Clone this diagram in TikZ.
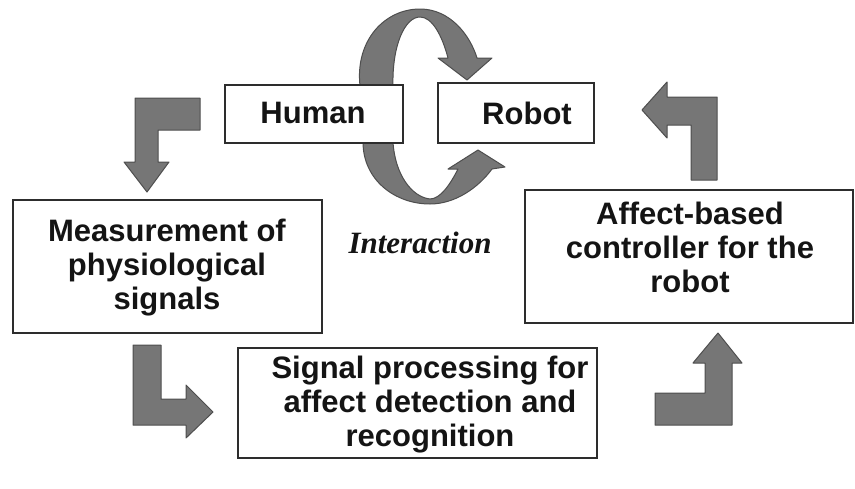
\documentclass[tikz,border=0pt]{standalone}
\usepackage{fontspec}
\setmainfont{Liberation Sans}
\newfontfamily\serifbi{Liberation Serif}
\definecolor{arrowfill}{RGB}{118,118,118}
\definecolor{arrowline}{RGB}{78,78,78}
\definecolor{boxline}{RGB}{45,45,45}
\definecolor{txtcol}{RGB}{20,20,20}
\begin{document}
\begin{tikzpicture}[x=1pt,y=-1pt,
  box/.style={draw=boxline, line width=2pt, fill=white, inner sep=0pt, rectangle},
  txt/.style={font=\fontsize{31}{34}\selectfont\bfseries, align=center, text=txtcol, inner sep=0pt},
  blockarrow/.style={fill=arrowfill, draw=arrowline, line width=1pt, line join=round}]
\useasboundingbox (0,0) rectangle (855,488);
% interaction crescents (behind the boxes)
\draw[blockarrow] (360,86) .. controls (355,40) and (385,9) .. (420,9)
  .. controls (450,9) and (470,35) .. (477,58) -- (492,58) -- (467,80) -- (438,58) -- (448,58)
  .. controls (442,35) and (432,17) .. (420,17)
  .. controls (405,17) and (392,45) .. (393,86) -- cycle;
\draw[blockarrow] (363,142) .. controls (363,180) and (395,204) .. (430,204)
  .. controls (455,204) and (478,188) .. (492,169) -- (505,167) -- (478,150) -- (448,169) -- (458,169)
  .. controls (450,185) and (440,199) .. (430,199)
  .. controls (412,197) and (395,175) .. (393,142) -- cycle;
% boxes
\node[box, minimum width=178pt, minimum height=58pt] (human) at (314,114) {};
\node[box, minimum width=156pt, minimum height=60pt] (robot) at (516,113) {};
\node[box, minimum width=309pt, minimum height=133pt] (meas) at (167.5,266.5) {};
\node[box, minimum width=359pt, minimum height=110pt] (sig) at (417.5,403) {};
\node[box, minimum width=328pt, minimum height=133pt] (ctrl) at (689,256.5) {};
% texts
\node[txt] (humantxt) at (313,113) {Human};
\node[txt] (robottxt) at (527,113) {Robot};
\node[txt] (meastxt) at (167,268) {Measurement of\\physiological\\signals};
\node[txt] (sigtxt) at (430,405) {Signal processing for\\affect detection and\\recognition};
\node[txt] (ctrltxt) at (690,247) {Affect-based\\controller for the\\robot};
\node[font=\fontsize{31}{34}\selectfont\serifbi\bfseries\itshape, text=txtcol, inner sep=0pt] (inter) at (420,243) {Interaction};
% block arrows
\draw[blockarrow] (135,98) -- (200,98) -- (200,130) -- (158,130) -- (158,162) -- (169,162) -- (147,192) -- (124,162) -- (135,162) -- cycle;
\draw[blockarrow] (691,180) -- (717,180) -- (717,97) -- (667,97) -- (667,82) -- (642,110) -- (667,138) -- (667,125) -- (691,125) -- cycle;
\draw[blockarrow] (133,345) -- (161,345) -- (161,399) -- (186,399) -- (186,385) -- (213,412) -- (186,438) -- (186,425) -- (133,425) -- cycle;
\draw[blockarrow] (655,393) -- (705,393) -- (705,363) -- (693,363) -- (718,333) -- (742,363) -- (732,363) -- (732,425) -- (655,425) -- cycle;
\end{tikzpicture}
\end{document}
